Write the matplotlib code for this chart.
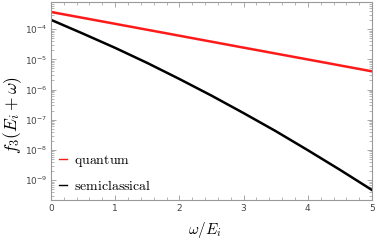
import numpy as np
import matplotlib
matplotlib.use("Agg")
import matplotlib.pyplot as plt
from matplotlib.ticker import LogLocator, MultipleLocator, NullFormatter

# values
x_quantum = [0, 1, 2, 3, 4, 5]
f_quantum = [3.7e-4, 1.5e-4, 6.05e-5, 2.44e-5, 9.9e-6, 4.0e-6]

x_semi = [0, 0.5, 1, 1.5, 2, 2.5, 3, 3.5, 4, 4.5, 5]
f_semi = [2.04e-4, 7.1e-5, 2.4e-5, 7.6e-6, 2.24e-6, 6.3e-7,
          1.66e-7, 4.2e-8, 9.8e-9, 2.2e-9, 4.7e-10]

plt.rcParams['mathtext.fontset'] = 'cm'

fig = plt.figure(figsize=(3.77, 2.45), dpi=100)
ax = fig.add_axes([0.135, 0.182, 0.852, 0.81])

ax.plot(x_quantum, f_quantum, color='#ff1a1a', lw=1.8, label=r'$\mathrm{quantum}$')
ax.plot(x_semi, f_semi, color='black', lw=1.8, label=r'$\mathrm{semiclassical}$')

ax.set_yscale('log')
ax.set_xlim(0, 5)
ax.set_ylim(10**-9.67, 10**-3.1)

ax.xaxis.set_major_locator(MultipleLocator(1))
ax.xaxis.set_minor_locator(MultipleLocator(0.2))
ax.yaxis.set_major_locator(LogLocator(base=10, numticks=20))
ax.yaxis.set_minor_locator(LogLocator(base=10, subs=np.arange(2, 10), numticks=20))
ax.yaxis.set_minor_formatter(NullFormatter())

for s in ax.spines.values():
    s.set_color('#999999')
    s.set_linewidth(0.8)
ax.tick_params(which='both', direction='in', top=True, right=True,
               color='#999999', labelcolor='#444444', labelsize=6.5, pad=2.5)
ax.tick_params(which='major', length=3.5, width=0.6)
ax.tick_params(which='minor', length=2, width=0.5)

# axis labels placed in figure pixels as in the reference
fig.text(13 / 377, 1 - 115 / 245, r'$f_3(E_i+\omega)$', fontsize=12.5,
         rotation=90, ha='center', va='center')
fig.text(205 / 377, 1 - 230 / 245, r'$\omega/E_i$', fontsize=11,
         ha='center', va='center')

leg = ax.legend(loc='lower left', frameon=False, fontsize=10, handlelength=0.6,
                handletextpad=0.5, labelspacing=0.7, borderaxespad=0.35,
                borderpad=0.2)
for line in leg.get_lines():
    line.set_linewidth(1.0)

fig.savefig('out.png', dpi=100)
